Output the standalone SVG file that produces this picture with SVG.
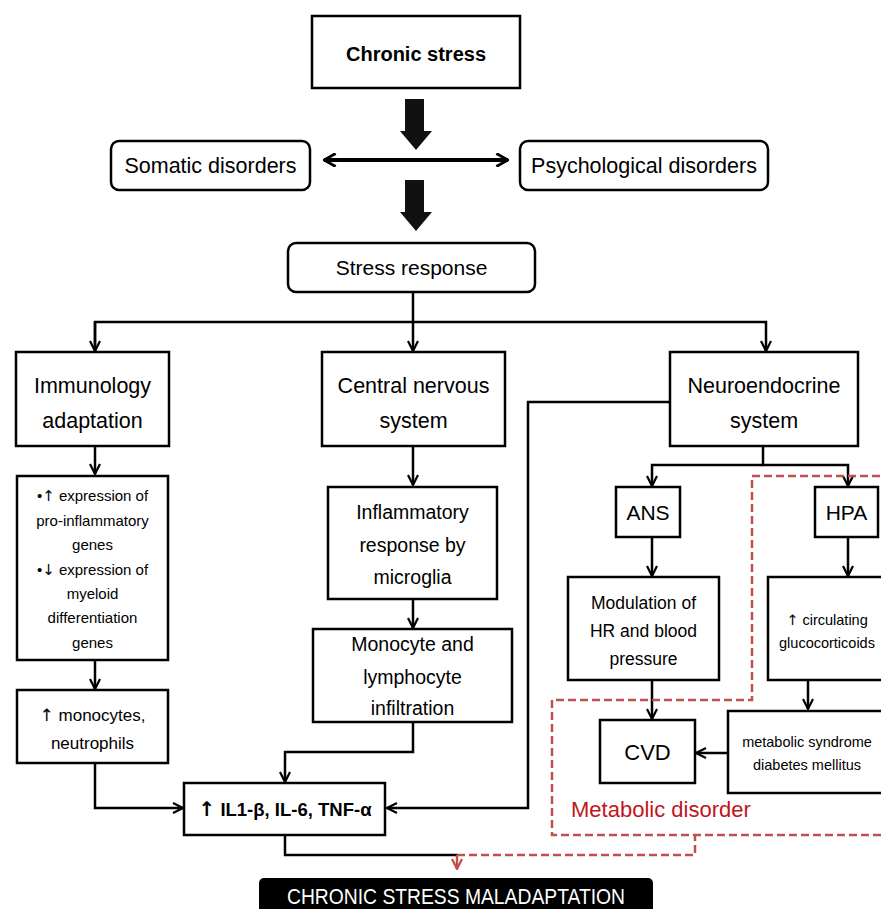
<svg xmlns="http://www.w3.org/2000/svg" width="881" height="909" viewBox="0 0 881 909">
<defs>
<style>
.box{fill:#fff;stroke:#000;stroke-width:2.5}
.t{font-family:"Liberation Sans",Arial,sans-serif;fill:#000;text-anchor:middle}
.ar{font-family:"DejaVu Sans",sans-serif;fill:#000}
.c{fill:none;stroke:#000;stroke-width:2.5}
.red{fill:none;stroke:#c0504d;stroke-width:2.5;stroke-dasharray:8 4}
</style>
<marker id="ah" viewBox="0 0 12 12" refX="11" refY="6" markerWidth="12" markerHeight="12" markerUnits="userSpaceOnUse" orient="auto">
<path d="M1,1 L11,6 L1,11" fill="none" stroke="#000" stroke-width="2.2"/>
</marker>
<marker id="ahb" viewBox="0 0 12 12" refX="11" refY="6" markerWidth="14" markerHeight="14" markerUnits="userSpaceOnUse" orient="auto-start-reverse">
<path d="M1,0.5 L11,6 L1,11.5" fill="none" stroke="#000" stroke-width="2.5"/>
</marker>
<marker id="ahr" viewBox="0 0 12 12" refX="11" refY="6" markerWidth="12" markerHeight="12" markerUnits="userSpaceOnUse" orient="auto">
<path d="M1,1 L11,6 L1,11" fill="none" stroke="#c0504d" stroke-width="2.2"/>
</marker>
</defs>
<rect width="881" height="909" fill="#fff"/>

<g id="connectors">
<path d="M405,99 H424 V131 H432 L416,150 L400,131 H405 Z" fill="#111"/>
<path d="M405,180 H424 V212 H432 L416,231 L400,212 H405 Z" fill="#111"/>
<line x1="324" y1="160" x2="508" y2="160" stroke="#000" stroke-width="4" marker-start="url(#ahb)" marker-end="url(#ahb)"/>
<path class="c" d="M413,292 V322"/>
<path class="c" d="M95,351 V322 H766 V351" marker-end="url(#ah)"/>
<path class="c" d="M95,322 V351" marker-end="url(#ah)"/>
<path class="c" d="M413,322 V351" marker-end="url(#ah)"/>
<path class="c" d="M95,446 V474" marker-end="url(#ah)"/>
<path class="c" d="M95,660 V689" marker-end="url(#ah)"/>
<path class="c" d="M95,763 V808 H183" marker-end="url(#ah)"/>
<path class="c" d="M413,446 V485" marker-end="url(#ah)"/>
<path class="c" d="M413,599 V628" marker-end="url(#ah)"/>
<path class="c" d="M413,722 V752 H285 V782" marker-end="url(#ah)"/>
<path class="c" d="M670,402 H528 V808 H387" marker-end="url(#ah)"/>
<path class="c" d="M285,835 V855 H457"/>
<path class="c" d="M763,446 V465 H848 V486" marker-end="url(#ah)"/>
<path class="c" d="M763,465 H652 V486" marker-end="url(#ah)"/>
<path class="c" d="M652,537 V576" marker-end="url(#ah)"/>
<path class="c" d="M848,537 V576" marker-end="url(#ah)"/>
<path class="c" d="M652,680 V719" marker-end="url(#ah)"/>
<path class="c" d="M808,680 V709" marker-end="url(#ah)"/>
<path class="c" d="M728,753 H696" marker-end="url(#ah)"/>
<path class="red" d="M457,855 H695 V835"/>
<path class="red" d="M457,855 V869" marker-end="url(#ahr)" style="stroke-dasharray:none"/>
<path class="red" d="M881,835 H552 V700 H752 V476 H881"/>
</g>

<g id="chronic-stress">
<rect class="box" x="312" y="16" width="208" height="72"/>
<text class="t" x="416" y="61" font-size="20" font-weight="bold">Chronic stress</text>
</g>
<g id="somatic">
<rect class="box" x="111" y="141" width="199" height="49" rx="8"/>
<text class="t" x="210.5" y="173" font-size="21.5">Somatic disorders</text>
</g>
<g id="psychological">
<rect class="box" x="520" y="141" width="248" height="49" rx="8"/>
<text class="t" x="644" y="173" font-size="21.5">Psychological disorders</text>
</g>
<g id="stress-response">
<rect class="box" x="288" y="243" width="247" height="49" rx="8"/>
<text class="t" x="411.5" y="275" font-size="21">Stress response</text>
</g>
<g id="immunology">
<rect class="box" x="16" y="352" width="153" height="94"/>
<text class="t" x="92.5" y="393" font-size="21.5">Immunology</text>
<text class="t" x="92.5" y="428" font-size="21.5">adaptation</text>
</g>
<g id="cns">
<rect class="box" x="322" y="352" width="183" height="94"/>
<text class="t" x="413.5" y="393" font-size="21.5">Central nervous</text>
<text class="t" x="413.5" y="428" font-size="21.5">system</text>
</g>
<g id="neuroendocrine">
<rect class="box" x="670" y="352" width="188" height="94"/>
<text class="t" x="764" y="393" font-size="21.5">Neuroendocrine</text>
<text class="t" x="764" y="428" font-size="21.5">system</text>
</g>
<g id="gene-expression">
<rect class="box" x="17" y="476" width="151" height="184"/>
<text class="t" x="92.5" y="501" font-size="15">•<tspan class="ar">↑</tspan> expression of</text>
<text class="t" x="92.5" y="526" font-size="15">pro-inflammatory</text>
<text class="t" x="92.5" y="550" font-size="15">genes</text>
<text class="t" x="92.5" y="575" font-size="15">•<tspan class="ar">↓</tspan> expression of</text>
<text class="t" x="92.5" y="599" font-size="15">myeloid</text>
<text class="t" x="92.5" y="623" font-size="15">differentiation</text>
<text class="t" x="92.5" y="648" font-size="15">genes</text>
</g>
<g id="monocytes">
<rect class="box" x="17" y="690" width="151" height="73"/>
<text class="t" x="92.5" y="721" font-size="17"><tspan class="ar">↑</tspan> monocytes,</text>
<text class="t" x="92.5" y="749" font-size="17">neutrophils</text>
</g>
<g id="microglia">
<rect class="box" x="328" y="487" width="169" height="112"/>
<text class="t" x="412.5" y="519" font-size="19.5">Inflammatory</text>
<text class="t" x="412.5" y="552" font-size="19.5">response by</text>
<text class="t" x="412.5" y="584" font-size="19.5">microglia</text>
</g>
<g id="infiltration">
<rect class="box" x="313" y="629" width="199" height="93"/>
<text class="t" x="412.5" y="651" font-size="19.5">Monocyte and</text>
<text class="t" x="412.5" y="684" font-size="19.5">lymphocyte</text>
<text class="t" x="412.5" y="715" font-size="19.5">infiltration</text>
</g>
<g id="cytokines">
<rect class="box" x="184" y="783" width="201" height="52"/>
<text class="t" x="285" y="816" font-size="18.5" font-weight="bold"><tspan class="ar" font-size="20">↑</tspan> IL1-β, IL-6, TNF-α</text>
</g>
<g id="ans">
<rect class="box" x="616" y="487" width="64" height="50"/>
<text class="t" x="648" y="520" font-size="21">ANS</text>
</g>
<g id="hpa">
<rect class="box" x="815" y="487" width="63" height="50"/>
<text class="t" x="846.5" y="520" font-size="21">HPA</text>
</g>
<g id="modulation">
<rect class="box" x="568" y="577" width="151" height="103"/>
<text class="t" x="643.5" y="609" font-size="17.5">Modulation of</text>
<text class="t" x="643.5" y="637" font-size="17.5">HR and blood</text>
<text class="t" x="643.5" y="665" font-size="17.5">pressure</text>
</g>
<g id="glucocorticoids">
<rect class="box" x="768" y="577" width="120" height="103"/>
<text class="t" x="827" y="625" font-size="14.5"><tspan class="ar">↑</tspan> circulating</text>
<text class="t" x="827" y="648" font-size="14.5">glucocorticoids</text>
</g>
<g id="cvd">
<rect class="box" x="600" y="720" width="95" height="63"/>
<text class="t" x="647.5" y="760" font-size="22">CVD</text>
</g>
<g id="metabolic-syndrome">
<rect class="box" x="728" y="711" width="160" height="82"/>
<text class="t" x="807" y="747" font-size="14.5">metabolic syndrome</text>
<text class="t" x="807" y="770" font-size="14.5">diabetes mellitus</text>
</g>
<g id="metabolic-disorder-label">
<text x="571" y="817" font-family="'Liberation Sans',Arial,sans-serif" font-size="22" fill="#c0151d">Metabolic disorder</text>
</g>
<g id="maladaptation">
<rect x="259" y="878" width="394" height="45" rx="5" fill="#000"/>
<text class="t" x="456" y="904" font-size="22" style="fill:#fff" textLength="338" lengthAdjust="spacingAndGlyphs">CHRONIC STRESS MALADAPTATION</text>
</g>
</svg>
